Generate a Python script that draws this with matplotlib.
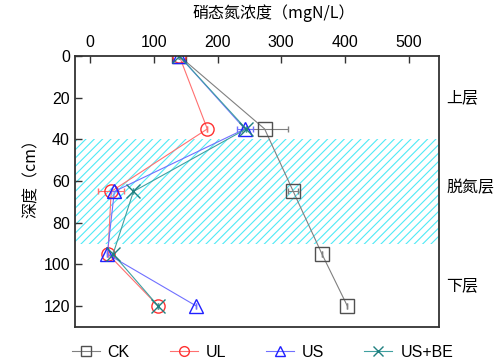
import matplotlib
matplotlib.use("Agg")
import matplotlib.pyplot as plt
from matplotlib.patches import Rectangle
from matplotlib.lines import Line2D

plt.rcParams['font.family'] = ['Liberation Sans', 'Noto Sans CJK SC', 'DejaVu Sans']
plt.rcParams['hatch.linewidth'] = 0.8

depth = [0, 35, 65, 95, 120]
ck = [140, 274, 319, 364, 404]
ck_err = [0, 36, 8, 0, 0]
ul = [140, 184, 33, 28, 107]
ul_err = [0, 0, 20, 0, 0]
us = [140, 243, 38, 27, 167]
us_err = [0, 12, 6, 0, 0]
usbe = [140, 245, 68, 36, 107]
usbe_err = [0, 0, 0, 0, 0]

series = [
    ("CK", ck, ck_err, "#808080", "#505050", "s"),
    ("UL", ul, ul_err, "#ff7070", "#ff3030", "o"),
    ("US", us, us_err, "#7070ff", "#2020ff", "^"),
    ("US+BE", usbe, usbe_err, "#40a0a0", "#208080", "x"),
]

fig = plt.figure(figsize=(4.99, 3.63), dpi=100)
ax = fig.add_axes([0.150, 0.0992, 0.730, 0.7466])

ax.add_patch(Rectangle((-24, 40), 572, 50, facecolor='none', edgecolor='#50eaf6',
                       hatch='////', linewidth=0, zorder=0))

handles = []
for name, x, err, lc, mc, m in series:
    kw = dict(marker=m, mfc='none' if m != 'x' else mc, mec=mc, mew=1.0)
    ax.errorbar(x, depth, xerr=err, color=lc, lw=0.8, ecolor=lc, elinewidth=0.8,
                capsize=2, ms=9.5, **kw)
    handles.append(Line2D([], [], color=lc, lw=0.8, label=name, ms=7, **kw))

ax.set_xlim(-24, 548)
ax.set_ylim(130, 0)
ax.xaxis.tick_top()
ax.xaxis.set_label_position('top')
ax.set_xticks([0, 100, 200, 300, 400, 500])
ax.set_yticks([0, 20, 40, 60, 80, 100, 120])
ax.tick_params(axis='both', direction='in', labelsize=11.5, length=5, width=1, colors='#333333',
               labelcolor='black')
ax.tick_params(axis='x', pad=4)
for s in ax.spines.values():
    s.set_linewidth(1.3)
    s.set_color('#333333')
cjk = ['Noto Sans CJK SC', 'DejaVu Sans']
ax.set_xlabel('硝态氮浓度（mgN/L）', fontsize=11.5, family=cjk)
ax.xaxis.set_label_coords(0.547, 1.14)
ax.set_ylabel('深度（cm）', fontsize=11.5, family=cjk)
ax.yaxis.set_label_coords(-0.096, 0.561)

for txt, yy in [("上层", 20), ("脱氮层", 63), ("下层", 110)]:
    ax.text(1.02, yy, txt, transform=ax.get_yaxis_transform(), fontsize=11.5, va='center',
            ha='left', family=cjk)

fig.legend(handles=handles, loc='lower center', ncol=4, frameon=False, fontsize=11.5,
           bbox_to_anchor=(0.526, -0.03), handlelength=1.75, columnspacing=2.5,
           handletextpad=0.5)

fig.savefig('out.png', dpi=100)
